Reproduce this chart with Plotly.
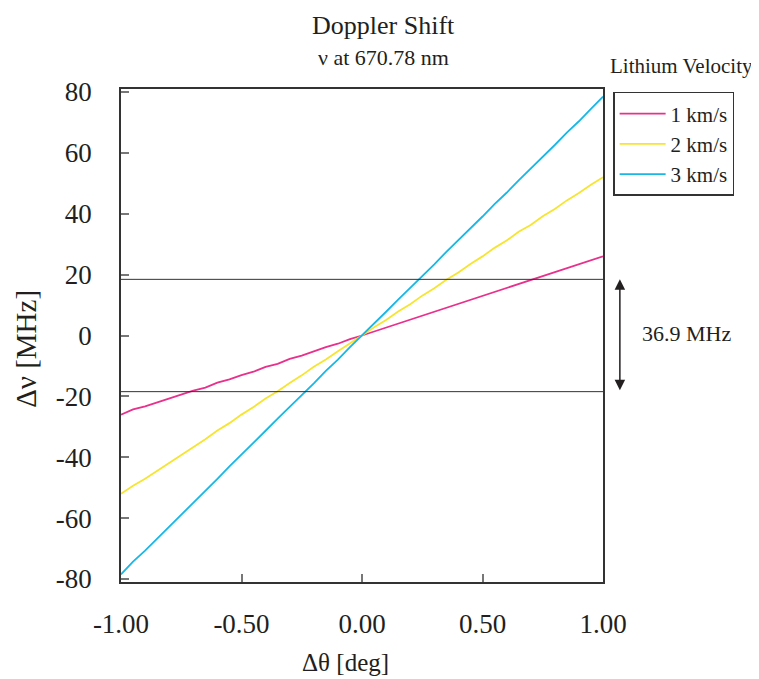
import plotly.graph_objects as go

# Data (Δθ in degrees, Δν in MHz)
theta_deg = [-1.00, -0.95, -0.90, -0.85, -0.80, -0.75, -0.70, -0.65, -0.60, -0.55,
             -0.50, -0.45, -0.40, -0.35, -0.30, -0.25, -0.20, -0.15, -0.10, -0.05,
             0.00, 0.05, 0.10, 0.15, 0.20, 0.25, 0.30, 0.35, 0.40, 0.45,
             0.50, 0.55, 0.60, 0.65, 0.70, 0.75, 0.80, 0.85, 0.90, 0.95, 1.00]

shift_1kms = [-26.0, -24.3, -23.3, -22.0, -20.7, -19.6, -18.1, -17.1, -15.5, -14.4,
              -13.0, -11.9, -10.3, -9.3, -7.7, -6.6, -5.2, -3.8, -2.7, -1.2,
              0.0, 1.3, 2.7, 3.8, 5.3, 6.4, 7.9, 9.0, 10.5, 11.6,
              13.0, 14.2, 15.7, 16.8, 18.2, 19.4, 20.9, 22.0, 23.4, 24.6, 26.0]

shift_2kms = [-52.0, -49.4, -47.1, -44.5, -42.0, -39.3, -36.5, -34.1, -31.2, -28.8,
              -26.0, -23.5, -20.7, -18.3, -15.6, -13.1, -10.3, -7.9, -5.2, -2.7,
              0.0, 2.7, 5.1, 7.9, 10.3, 13.1, 15.5, 18.3, 20.7, 23.5,
              26.0, 28.8, 31.2, 34.1, 36.3, 39.2, 41.6, 44.4, 46.8, 49.5, 52.0]

shift_3kms = [-78.5, -74.3, -70.7, -66.8, -62.9, -58.7, -55.0, -50.9, -47.1, -43.0,
              -39.2, -35.1, -31.3, -27.3, -23.5, -19.5, -15.7, -11.6, -7.9, -3.8,
              0.0, 4.0, 7.8, 11.8, 15.6, 19.7, 23.4, 27.5, 31.3, 35.3,
              39.1, 43.2, 46.9, 51.0, 54.8, 58.8, 62.6, 66.7, 70.4, 74.5, 78.5]

series_names = ["1 km/s", "2 km/s", "3 km/s"]
series_values = [shift_1kms, shift_2kms, shift_3kms]
series_colors = ["#E8308C", "#F7E42F", "#18B7E6"]

band_half_width = 18.45  # half of 36.9 MHz
band_label = "36.9 MHz"

x_tick_vals = [-1.0, -0.5, 0.0, 0.5, 1.0]
x_tick_text = ["-1.00", "-0.50", "0.00", "0.50", "1.00"]
y_tick_vals = [-80, -60, -40, -20, 0, 20, 40, 60, 80]
y_tick_text = ["-80", "-60", "-40", "-20", "0", "20", "40", "60", "80"]

FONT = "Liberation Serif, Times New Roman, serif"
INK = "#231F20"

fig = go.Figure()
for name, vals, col in zip(series_names, series_values, series_colors):
    fig.add_trace(go.Scatter(x=theta_deg, y=vals, mode="lines", name=name,
                             line=dict(color=col, width=1.8)))

for yv in (band_half_width, -band_half_width):
    fig.add_shape(type="line", xref="x domain", yref="y", x0=0, x1=1, y0=yv, y1=yv,
                  line=dict(color="#333333", width=1))

fig.add_annotation(xref="x domain", yref="y", axref="x domain", ayref="y",
                   x=1.035, y=band_half_width, ax=1.035, ay=-band_half_width,
                   showarrow=True, arrowside="end+start", arrowhead=2, arrowsize=1.4,
                   arrowwidth=1.5, arrowcolor=INK, text="")


def label(x, y, text, size, xref="paper", yref="paper", angle=0, yanchor="middle"):
    fig.add_annotation(xref=xref, yref=yref, x=x, y=y, text=text, textangle=angle,
                       xanchor="center", yanchor=yanchor, showarrow=False,
                       font=dict(family=FONT, size=size, color=INK))


label(1.174, 0.8, band_label, 22, xref="x domain", yref="y")
label(0.544, 1.163, "Doppler Shift", 26, yanchor="top")
label(0.544, 1.063, "ν at 670.78 nm", 22)
label(1.162, 1.047, "Lithium Velocity", 21)
label(0.465, -0.164, "Δθ [deg]", 25)
label(-0.197, 0.473, "Δν [MHz]", 29, angle=-90)

fig.update_xaxes(range=[-1, 1], tickvals=x_tick_vals, ticktext=x_tick_text,
                 ticks="inside", ticklen=8, tickcolor="#777777", tickwidth=1.5,
                 showline=True, mirror=True, linecolor="#333333", linewidth=1.5,
                 showgrid=False, zeroline=False, ticklabelstandoff=17,
                 tickfont=dict(family=FONT, size=27, color=INK))
fig.update_yaxes(range=[-81, 81], tickvals=y_tick_vals, ticktext=y_tick_text,
                 ticks="inside", ticklen=8, tickcolor="#777777", tickwidth=1.5,
                 showline=True, mirror=True, linecolor="#333333", linewidth=1.5,
                 showgrid=False, zeroline=False, ticklabelstandoff=22,
                 tickfont=dict(family=FONT, size=27, color=INK))

fig.update_layout(
    width=751, height=671, autosize=False,
    margin=dict(l=113, r=156, t=81, b=97),
    paper_bgcolor="white", plot_bgcolor="white",
    showlegend=True,
    legend=dict(x=1.021, y=0.994, xanchor="left", yanchor="top",
                bordercolor="#333333", borderwidth=1.5, bgcolor="white",
                font=dict(family=FONT, size=21, color=INK),
                itemwidth=46, tracegroupgap=0),
)

fig.write_html("out.html")
